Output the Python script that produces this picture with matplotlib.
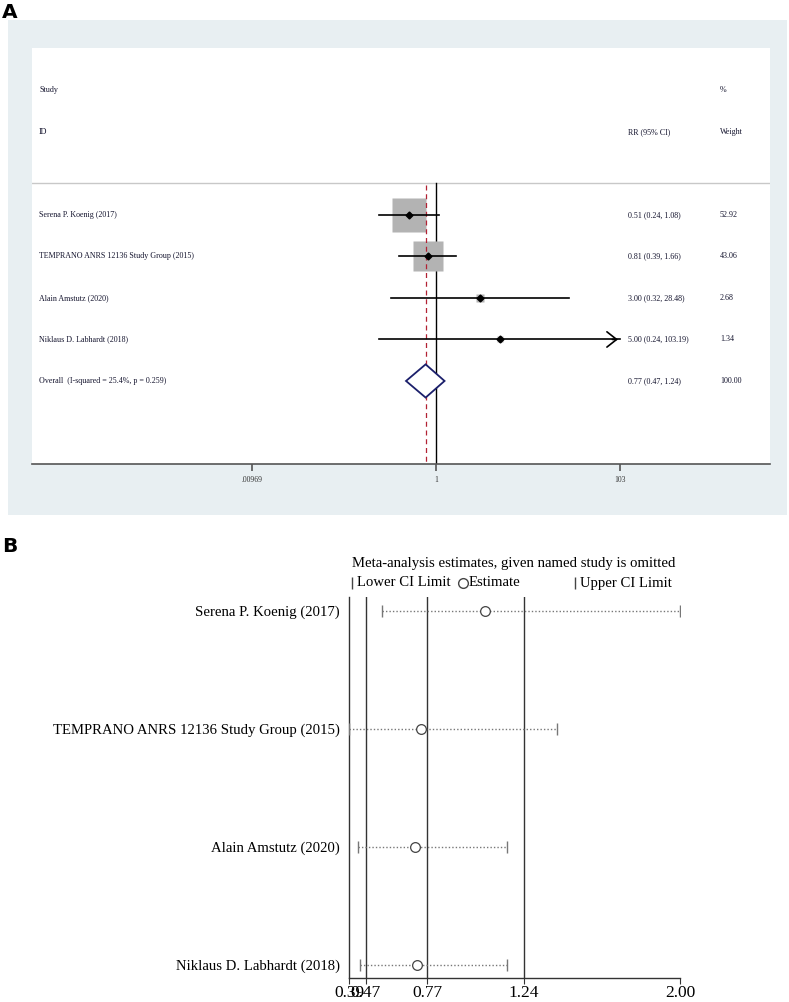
import matplotlib.pyplot as plt
import matplotlib.transforms as mtransforms
from matplotlib.patches import Rectangle, Polygon
from matplotlib.lines import Line2D

# ---- Panel A data (forest plot) ----
studies = ["Serena P. Koenig (2017)", "TEMPRANO ANRS 12136 Study Group (2015)",
           "Alain Amstutz (2020)", "Niklaus D. Labhardt (2018)"]
rr = [0.51, 0.81, 3.00, 5.00]
lo = [0.24, 0.39, 0.32, 0.24]
hi = [1.08, 1.66, 28.48, 103.19]
weight = [52.92, 43.06, 2.68, 1.34]
rr_text = ["0.51 (0.24, 1.08)", "0.81 (0.39, 1.66)", "3.00 (0.32, 28.48)", "5.00 (0.24, 103.19)"]
weight_text = ["52.92", "43.06", "2.68", "1.34"]
overall = (0.77, 0.47, 1.24)
overall_label = "Overall  (I-squared = 25.4%, p = 0.259)"
overall_rr_text = "0.77 (0.47, 1.24)"
overall_weight_text = "100.00"
a_ticks = [0.00969, 1, 103]
a_ticklabels = [".00969", "1", "103"]

# ---- Panel B data (leave-one-out) ----
b_est = [1.05, 0.74, 0.71, 0.72]
b_lo = [0.55, 0.39, 0.43, 0.44]
b_hi = [2.00, 1.40, 1.16, 1.16]
b_ref = [0.47, 0.77, 1.24]
b_ticks = [0.39, 0.47, 0.77, 1.24, 2.00]
legend_labels = ["Lower CI Limit", "Estimate", "Upper CI Limit"]

W, H = 789, 1002
fig = plt.figure(figsize=(W / 100, H / 100), dpi=100)
serif = "Liberation Serif"
txtcol = "#14142e"


def px_rect(x0, y0, x1, y1):
    # figure-fraction rect from pixel box (top-left origin)
    return [x0 / W, 1 - y1 / H, (x1 - x0) / W, (y1 - y0) / H]


# panel letters
fig.text(2 / W, 1 - 18 / H, "A", fontsize=14.5, fontweight="bold", family="DejaVu Sans", va="baseline")
fig.text(2 / W, 1 - 552 / H, "B", fontsize=14.5, fontweight="bold", family="DejaVu Sans", va="baseline")

# panel A background
fig.patches.append(Rectangle((8 / W, 1 - 515 / H), (787 - 8) / W, (515 - 20) / H,
                             transform=fig.transFigure, facecolor="#e8eff2",
                             edgecolor="none", zorder=-1))

axA = fig.add_axes(px_rect(32, 48, 770, 464))
axA.set_zorder(1)
axA.set_facecolor("white")
axA.set_xscale("log")
px_per_dec = 91.4
axA.set_xlim(10 ** ((32 - 436) / px_per_dec), 10 ** ((770 - 436) / px_per_dec))
axA.set_ylim(6, -4.02)
for s in ["top", "left", "right"]:
    axA.spines[s].set_visible(False)
axA.spines["bottom"].set_color("#555555")
axA.spines["bottom"].set_linewidth(1.2)
axA.set_yticks([])
axA.set_xticks(a_ticks)
axA.set_xticklabels(a_ticklabels, fontsize=5.5, family=serif, color="#333333")
axA.xaxis.set_minor_locator(plt.NullLocator())
axA.tick_params(axis="x", direction="out", length=5, width=1.2, color="#555555", pad=4)

rows = list(range(len(studies)))
trA = mtransforms.blended_transform_factory(axA.transAxes, axA.transData)
xl, xm, xr = (39 - 32) / 738, (628 - 32) / 738, (720 - 32) / 738

axA.axhline(-0.77, color="#c8c8c8", lw=1)
axA.plot([1, 1], [-0.77, 6], color="black", lw=1, zorder=2)
axA.plot([overall[0]] * 2, [-0.72, 6], color="#b22234", lw=0.9, ls=(0, (4, 3)), zorder=3)

# boxes, CIs, points
cap = 103
for i in rows:
    side = 23.8 * (weight[i] / max(weight)) ** 0.5
    axA.plot(rr[i], i, marker="s", ms=side, color="#b3b3b3", mec="none", zorder=2)
    if hi[i] > cap:
        axA.plot([lo[i], cap], [i, i], color="black", lw=1.2, zorder=4)
        axA.annotate("", xy=(cap * 1.02, i), xytext=(cap / 1.3, i),
                     arrowprops=dict(arrowstyle="->,head_length=0.7,head_width=0.55",
                                     color="black", lw=1.2), zorder=4)
    else:
        axA.plot([lo[i], hi[i]], [i, i], color="black", lw=1.2, zorder=4)
    axA.plot(rr[i], i, marker="D", ms=3.5, color="black", zorder=5)
    axA.text(xl, i, studies[i], transform=trA, fontsize=5.8, family=serif,
             color=txtcol, va="center")
    axA.text(xm, i, rr_text[i], transform=trA, fontsize=5.8, family=serif,
             color=txtcol, va="center")
    axA.text(xr, i, weight_text[i], transform=trA, fontsize=5.8, family=serif,
             color=txtcol, va="center")

yo = len(studies)
axA.add_patch(Polygon([(overall[1], yo), (overall[0], yo - 0.4), (overall[2], yo),
                       (overall[0], yo + 0.4)], closed=True, facecolor="white",
                      edgecolor="#1b1f6b", lw=1.3, zorder=4))
axA.text(xl, yo, overall_label, transform=trA, fontsize=5.8, family=serif, color=txtcol, va="center")
axA.text(xm, yo, overall_rr_text, transform=trA, fontsize=5.8, family=serif, color=txtcol, va="center")
axA.text(xr, yo, overall_weight_text, transform=trA, fontsize=5.8, family=serif, color=txtcol, va="center")

# headers
axA.text(xl, -3, "Study", transform=trA, fontsize=5.8, family=serif, color=txtcol, va="center")
axA.text(xl, -2, "ID", transform=trA, fontsize=5.8, family=serif, color=txtcol, va="center")
axA.text(xr, -3, "%", transform=trA, fontsize=5.8, family=serif, color=txtcol, va="center")
axA.text(xm, -2, "RR (95% CI)", transform=trA, fontsize=5.8, family=serif, color=txtcol, va="center")
axA.text(xr, -2, "Weight", transform=trA, fontsize=5.8, family=serif, color=txtcol, va="center")

# ---- Panel B ----
axB = fig.add_axes(px_rect(349.3, 597, 680, 977.7))
axB.set_xlim(b_ticks[0], b_ticks[-1])
axB.set_ylim(3.108, -0.12)
axB.spines["top"].set_visible(False)
axB.spines["right"].set_visible(False)
for s in ["left", "bottom"]:
    axB.spines[s].set_color("#333333")
    axB.spines[s].set_linewidth(1)
for v in b_ref:
    axB.axvline(v, color="#333333", lw=1)

for i in rows:
    axB.plot([b_lo[i], b_hi[i]], [i, i], color="#777777", lw=1, ls=(0, (1, 1.5)), zorder=3)
    axB.plot([b_lo[i], b_hi[i]], [i, i], ls="none", marker="|", ms=8, mew=1,
             color="#777777", zorder=4)
    axB.plot(b_est[i], i, marker="o", ms=7, mfc="white", mec="#444444", mew=0.9, zorder=5)

axB.set_yticks(rows)
axB.set_yticklabels(studies, fontsize=10.6, family=serif, color="black")
axB.tick_params(axis="y", length=0, pad=7)
axB.set_xticks(b_ticks)
axB.set_xticklabels([f"{t:.2f}" for t in b_ticks], fontsize=12.5, family=serif)
axB.tick_params(axis="x", direction="out", length=4.5, color="#333333", pad=0.5)

fig.text(514 / W, 1 - 563 / H, "Meta-analysis estimates, given named study is omitted",
         ha="center", va="center", fontsize=10.6, family=serif)

# legend row, placed by hand like Stata's key
leg_y = 1 - 583 / H
key_marks = [("|", 352, "none"), ("o", 463, "white"), ("|", 575, "none")]
key_text_x = [357, 469, 580]
for (mk, mx, fc), tx, lab in zip(key_marks, key_text_x, legend_labels):
    fig.add_artist(Line2D([mx / W], [leg_y], marker=mk, ms=8 if mk == "|" else 7,
                          mfc=fc, mec="#444444", color="#444444", ls="none",
                          transform=fig.transFigure))
    fig.text(tx / W, leg_y, lab, va="center", ha="left", fontsize=10.6, family=serif)

fig.savefig("out.png", dpi=100)
